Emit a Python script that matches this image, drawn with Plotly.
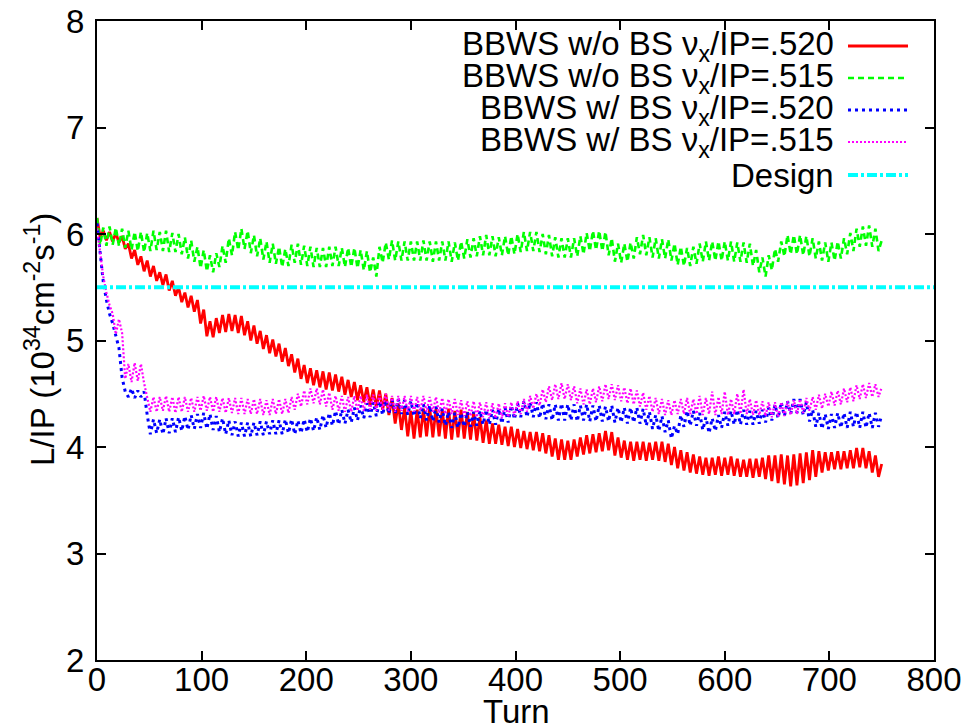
import plotly.graph_objects as go

# ---- data, one value every 3 turns ----
turns = list(range(0, 751, 3))

red_520_noBS = [
    6.15, 5.97, 6.03, 5.94, 6.02, 5.93, 6.01, 5.92, 5.98, 5.86,
    5.91, 5.77, 5.85, 5.71, 5.79, 5.65, 5.75, 5.60, 5.70, 5.56,
    5.64, 5.52, 5.62, 5.47, 5.56, 5.42, 5.50, 5.36, 5.45, 5.31,
    5.42, 5.27, 5.38, 5.16, 5.29, 5.04, 5.18, 5.03, 5.21, 5.07,
    5.24, 5.08, 5.25, 5.09, 5.24, 5.07, 5.23, 5.05, 5.18, 5.00,
    5.14, 4.97, 5.09, 4.92, 5.05, 4.88, 5.01, 4.85, 4.97, 4.80,
    4.93, 4.76, 4.87, 4.70, 4.83, 4.64, 4.77, 4.60, 4.74, 4.58,
    4.72, 4.56, 4.71, 4.54, 4.70, 4.53, 4.68, 4.52, 4.66, 4.49,
    4.63, 4.47, 4.61, 4.44, 4.58, 4.42, 4.56, 4.39, 4.54, 4.37,
    4.53, 4.35, 4.50, 4.30, 4.46, 4.22, 4.41, 4.16, 4.37, 4.10,
    4.34, 4.08, 4.35, 4.09, 4.36, 4.10, 4.37, 4.09, 4.36, 4.10,
    4.35, 4.08, 4.36, 4.07, 4.34, 4.09, 4.35, 4.08, 4.33, 4.07,
    4.32, 4.06, 4.28, 4.04, 4.25, 4.03, 4.22, 4.03, 4.21, 4.02,
    4.19, 4.01, 4.19, 4.00, 4.17, 3.99, 4.15, 3.98, 4.14, 3.97,
    4.14, 3.96, 4.13, 3.94, 4.11, 3.91, 4.08, 3.88, 4.07, 3.88,
    4.06, 3.88, 4.07, 3.91, 4.09, 3.93, 4.11, 3.94, 4.12, 3.95,
    4.13, 3.96, 4.15, 3.97, 4.14, 3.92, 4.09, 3.90, 4.06, 3.88,
    4.05, 3.87, 4.05, 3.88, 4.05, 3.87, 4.04, 3.88, 4.05, 3.87,
    4.05, 3.86, 4.03, 3.83, 4.00, 3.80, 3.97, 3.78, 3.95, 3.76,
    3.93, 3.75, 3.91, 3.74, 3.90, 3.73, 3.90, 3.74, 3.91, 3.73,
    3.90, 3.74, 3.91, 3.73, 3.89, 3.72, 3.88, 3.72, 3.89, 3.71,
    3.89, 3.72, 3.90, 3.70, 3.92, 3.68, 3.92, 3.66, 3.93, 3.65,
    3.92, 3.63, 3.93, 3.64, 3.94, 3.66, 3.95, 3.69, 3.97, 3.72,
    3.96, 3.76, 3.95, 3.78, 3.95, 3.79, 3.96, 3.79, 3.96, 3.80,
    3.97, 3.80, 3.99, 3.81, 3.99, 3.80, 3.96, 3.76, 3.92, 3.72,
    3.84,
]

green_515_noBS = [
    6.15, 5.90, 6.06, 5.89, 6.07, 5.90, 6.06, 5.89, 6.05, 5.87,
    6.03, 5.85, 6.02, 5.84, 6.02, 5.83, 6.01, 5.84, 6.03, 5.85,
    6.02, 5.84, 6.03, 5.83, 6.01, 5.83, 6.00, 5.81, 5.97, 5.77,
    5.94, 5.74, 5.88, 5.68, 5.85, 5.65, 5.80, 5.64, 5.82, 5.69,
    5.89, 5.73, 5.96, 5.80, 6.02, 5.85, 6.05, 5.86, 6.03, 5.82,
    5.99, 5.79, 5.96, 5.76, 5.93, 5.73, 5.91, 5.72, 5.88, 5.69,
    5.86, 5.70, 5.90, 5.73, 5.91, 5.71, 5.89, 5.70, 5.88, 5.69,
    5.87, 5.69, 5.87, 5.69, 5.88, 5.70, 5.88, 5.70, 5.87, 5.69,
    5.87, 5.69, 5.87, 5.68, 5.85, 5.66, 5.84, 5.64, 5.78, 5.60,
    5.88, 5.73, 5.92, 5.76, 5.94, 5.75, 5.93, 5.75, 5.93, 5.75,
    5.93, 5.75, 5.93, 5.75, 5.94, 5.75, 5.93, 5.74, 5.93, 5.75,
    5.93, 5.75, 5.93, 5.74, 5.92, 5.75, 5.93, 5.77, 5.95, 5.78,
    5.96, 5.79, 5.98, 5.80, 5.99, 5.80, 5.98, 5.79, 5.97, 5.80,
    5.98, 5.80, 5.98, 5.81, 6.00, 5.83, 6.02, 5.84, 6.02, 5.84,
    6.02, 5.83, 6.00, 5.81, 5.99, 5.79, 5.97, 5.78, 5.96, 5.78,
    5.96, 5.78, 5.96, 5.79, 5.98, 5.81, 6.01, 5.84, 6.03, 5.85,
    6.03, 5.84, 6.02, 5.80, 5.96, 5.74, 5.91, 5.73, 5.91, 5.74,
    5.92, 5.77, 5.97, 5.81, 5.99, 5.80, 5.97, 5.78, 5.96, 5.77,
    5.95, 5.77, 5.95, 5.75, 5.91, 5.71, 5.88, 5.70, 5.87, 5.70,
    5.88, 5.72, 5.91, 5.74, 5.93, 5.75, 5.93, 5.75, 5.93, 5.75,
    5.93, 5.75, 5.93, 5.74, 5.92, 5.74, 5.92, 5.73, 5.91, 5.70,
    5.85, 5.64, 5.78, 5.60, 5.80, 5.66, 5.86, 5.74, 5.93, 5.79,
    5.99, 5.81, 5.99, 5.81, 5.99, 5.80, 5.98, 5.79, 5.96, 5.77,
    5.93, 5.75, 5.92, 5.74, 5.92, 5.75, 5.93, 5.77, 5.96, 5.81,
    6.01, 5.84, 6.05, 5.88, 6.07, 5.89, 6.08, 5.88, 6.05, 5.84,
    5.94,
]

blue_520_BS = [
    6.10, 5.80, 5.55, 5.38, 5.25, 5.16, 5.05, 4.93, 4.65, 4.52,
    4.47, 4.55, 4.46, 4.53, 4.47, 4.52, 4.30, 4.12, 4.26, 4.13,
    4.26, 4.12, 4.27, 4.13, 4.27, 4.14, 4.28, 4.15, 4.29, 4.16,
    4.30, 4.17, 4.31, 4.18, 4.32, 4.17, 4.31, 4.16, 4.29, 4.14,
    4.27, 4.12, 4.25, 4.11, 4.24, 4.10, 4.23, 4.10, 4.23, 4.10,
    4.23, 4.11, 4.24, 4.11, 4.24, 4.12, 4.25, 4.12, 4.25, 4.12,
    4.26, 4.13, 4.26, 4.12, 4.25, 4.13, 4.26, 4.14, 4.27, 4.15,
    4.28, 4.16, 4.30, 4.18, 4.32, 4.20, 4.34, 4.21, 4.35, 4.22,
    4.35, 4.23, 4.37, 4.25, 4.39, 4.27, 4.41, 4.28, 4.42, 4.29,
    4.43, 4.30, 4.44, 4.31, 4.45, 4.32, 4.45, 4.31, 4.44, 4.30,
    4.43, 4.29, 4.42, 4.27, 4.40, 4.25, 4.39, 4.24, 4.38, 4.23,
    4.36, 4.20, 4.33, 4.18, 4.32, 4.18, 4.32, 4.19, 4.33, 4.19,
    4.33, 4.20, 4.34, 4.21, 4.35, 4.21, 4.35, 4.21, 4.36, 4.22,
    4.37, 4.23, 4.39, 4.26, 4.41, 4.28, 4.43, 4.28, 4.42, 4.28,
    4.42, 4.27, 4.41, 4.26, 4.40, 4.25, 4.40, 4.25, 4.41, 4.25,
    4.40, 4.25, 4.40, 4.24, 4.39, 4.25, 4.40, 4.24, 4.39, 4.24,
    4.39, 4.24, 4.38, 4.24, 4.39, 4.23, 4.37, 4.23, 4.37, 4.22,
    4.37, 4.23, 4.37, 4.22, 4.36, 4.20, 4.33, 4.17, 4.30, 4.15,
    4.29, 4.14, 4.25, 4.08, 4.20, 4.12, 4.30, 4.19, 4.34, 4.20,
    4.34, 4.20, 4.32, 4.16, 4.28, 4.13, 4.27, 4.15, 4.30, 4.18,
    4.33, 4.20, 4.34, 4.21, 4.35, 4.21, 4.35, 4.21, 4.34, 4.21,
    4.34, 4.22, 4.35, 4.23, 4.37, 4.25, 4.40, 4.27, 4.42, 4.29,
    4.43, 4.31, 4.45, 4.32, 4.45, 4.30, 4.42, 4.24, 4.35, 4.19,
    4.32, 4.17, 4.31, 4.17, 4.31, 4.18, 4.32, 4.18, 4.32, 4.18,
    4.33, 4.19, 4.33, 4.18, 4.33, 4.18, 4.32, 4.18, 4.32, 4.19,
    4.30,
]

magenta_515_BS = [
    6.05, 5.80, 5.60, 5.45, 5.33, 5.25, 5.06, 5.20, 5.07, 4.64,
    4.78, 4.61, 4.79, 4.62, 4.78, 4.60, 4.46, 4.33, 4.47, 4.33,
    4.47, 4.34, 4.48, 4.33, 4.47, 4.32, 4.47, 4.33, 4.47, 4.33,
    4.46, 4.33, 4.47, 4.34, 4.48, 4.34, 4.47, 4.33, 4.47, 4.33,
    4.46, 4.32, 4.46, 4.32, 4.46, 4.31, 4.46, 4.31, 4.45, 4.31,
    4.45, 4.31, 4.45, 4.30, 4.44, 4.30, 4.45, 4.31, 4.45, 4.31,
    4.45, 4.32, 4.47, 4.35, 4.50, 4.38, 4.53, 4.40, 4.55, 4.41,
    4.55, 4.40, 4.54, 4.38, 4.51, 4.35, 4.48, 4.34, 4.48, 4.33,
    4.47, 4.33, 4.48, 4.34, 4.48, 4.34, 4.49, 4.35, 4.49, 4.34,
    4.49, 4.35, 4.50, 4.34, 4.48, 4.33, 4.48, 4.34, 4.48, 4.33,
    4.48, 4.33, 4.47, 4.34, 4.48, 4.33, 4.47, 4.33, 4.47, 4.32,
    4.46, 4.31, 4.45, 4.31, 4.45, 4.30, 4.44, 4.29, 4.43, 4.29,
    4.43, 4.28, 4.42, 4.28, 4.42, 4.27, 4.41, 4.27, 4.41, 4.27,
    4.41, 4.28, 4.42, 4.29, 4.43, 4.31, 4.45, 4.33, 4.48, 4.36,
    4.50, 4.39, 4.54, 4.42, 4.57, 4.44, 4.59, 4.45, 4.60, 4.45,
    4.59, 4.44, 4.57, 4.41, 4.55, 4.40, 4.54, 4.40, 4.55, 4.42,
    4.57, 4.43, 4.59, 4.45, 4.59, 4.44, 4.58, 4.43, 4.56, 4.41,
    4.55, 4.40, 4.53, 4.38, 4.51, 4.35, 4.48, 4.33, 4.46, 4.31,
    4.45, 4.30, 4.44, 4.30, 4.44, 4.31, 4.45, 4.31, 4.46, 4.31,
    4.45, 4.31, 4.48, 4.30, 4.46, 4.31, 4.52, 4.30, 4.47, 4.31,
    4.52, 4.30, 4.45, 4.31, 4.50, 4.31, 4.54, 4.31, 4.45, 4.30,
    4.44, 4.30, 4.43, 4.29, 4.42, 4.28, 4.42, 4.28, 4.42, 4.29,
    4.43, 4.30, 4.44, 4.31, 4.45, 4.32, 4.46, 4.34, 4.47, 4.35,
    4.49, 4.36, 4.50, 4.38, 4.52, 4.39, 4.53, 4.40, 4.55, 4.42,
    4.56, 4.43, 4.58, 4.45, 4.59, 4.46, 4.60, 4.47, 4.59, 4.47,
    4.56,
]

design_x = [0, 800]
design_y = [5.5, 5.5]

x_ticks = [0, 100, 200, 300, 400, 500, 600, 700, 800]
y_ticks = [2, 3, 4, 5, 6, 7, 8]

legend_labels = [
    "BBWS w/o BS ν<sub>x</sub>/IP=.520",
    "BBWS w/o BS ν<sub>x</sub>/IP=.515",
    "BBWS w/ BS ν<sub>x</sub>/IP=.520",
    "BBWS w/ BS ν<sub>x</sub>/IP=.515",
    "Design",
]

# ---- styles / geometry ----
FONT = "Liberation Sans, Arial, Helvetica, sans-serif"
FS = 33
W, H = 969, 727
ML, MR, MT, MB = 97, 35, 21, 67
PW, PH = W - ML - MR, H - MT - MB


def px_to_paper_x(px):
    return (px - ML) / PW


def py_to_paper_y(py):
    return (MT + PH - py) / PH


styles = [
    dict(color="#ff0000", width=2.8, dash="solid"),
    dict(color="#00ff00", width=2.6, dash="6px,4px"),
    dict(color="#0000ff", width=3.0, dash="3px,4px"),
    dict(color="#ff00ff", width=2.2, dash="2px,2px"),
    dict(color="#00ffff", width=4.0, dash="10px,3px,3px,3px"),
]

fig = go.Figure()
series = [red_520_noBS, green_515_noBS, blue_520_BS, magenta_515_BS]
for vals, st, name in zip(series, styles[:4], legend_labels[:4]):
    fig.add_trace(go.Scatter(x=turns, y=vals, mode="lines", name=name,
                             line=st, showlegend=False))
fig.add_trace(go.Scatter(x=design_x, y=design_y, mode="lines", name="Design",
                         line=styles[4], showlegend=False))

# gnuplot-style key: right-aligned text, sample line on its right
row_y = [46, 78, 110, 142, 175]
for lab, st, py in zip(legend_labels, styles, row_y):
    yp = py_to_paper_y(py)
    fig.add_annotation(x=px_to_paper_x(836), y=yp, xref="paper", yref="paper",
                       text=lab, showarrow=False, xanchor="right",
                       yanchor="middle",
                       font=dict(family=FONT, size=FS, color="black"))
    fig.add_shape(type="line", xref="paper", yref="paper",
                  x0=px_to_paper_x(848), x1=px_to_paper_x(908), y0=yp, y1=yp,
                  line=st)

# axis titles
fig.add_annotation(x=px_to_paper_x(40), y=py_to_paper_y(340), xref="paper",
                   yref="paper", showarrow=False, textangle=-90,
                   xanchor="center", yanchor="middle",
                   text="L/IP (10<sup>34</sup>cm<sup>-2</sup>s<sup>-1</sup>)",
                   font=dict(family=FONT, size=FS, color="black"))
fig.add_annotation(x=px_to_paper_x(516), y=py_to_paper_y(732), xref="paper",
                   yref="paper", showarrow=False, xanchor="center",
                   yanchor="bottom", text="Turn",
                   font=dict(family=FONT, size=FS, color="black"))

axis_common = dict(showline=True, linecolor="black", linewidth=2,
                   mirror="ticks", ticks="inside", ticklen=9, tickwidth=1.5,
                   tickcolor="black", showgrid=False, zeroline=False,
                   tickfont=dict(family=FONT, size=FS, color="black"))

fig.update_layout(
    width=W, height=H,
    margin=dict(l=ML, r=MR, t=MT, b=MB, autoexpand=False),
    paper_bgcolor="white", plot_bgcolor="white",
    font=dict(family=FONT, size=FS, color="black"),
    xaxis=dict(range=[0, 800], tickvals=x_ticks, ticklabelstandoff=-11,
               **axis_common),
    yaxis=dict(range=[2, 8], tickvals=y_ticks, ticklabelstandoff=4,
               **axis_common),
)

fig.write_html("out.html",
               config={"displayModeBar": False},
               post_script="document.body.style.margin='0';"
                           "document.body.style.overflow='hidden';")
